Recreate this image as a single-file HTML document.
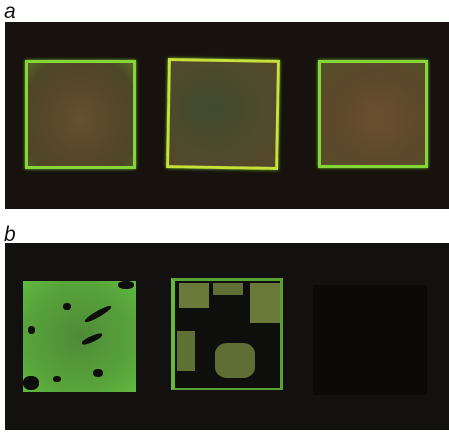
<!DOCTYPE html>
<html><head><meta charset="utf-8"><style>
body{margin:0;width:449px;height:432px;background:#fff;position:relative;overflow:hidden;font-family:"Liberation Sans",sans-serif}
.lbl{position:absolute;font-style:italic;font-size:21px;color:#111;line-height:1}
.panel{position:absolute;left:5px;width:444px}
.sq{position:absolute;box-sizing:border-box}
.a .sq{border:3px solid #86d63a;background:radial-gradient(ellipse at 50% 55%,#66502e 0%,#574729 45%,#4d4727 80%,#5a6428 100%);box-shadow:0 0 3px #6fbf30}
.hole{position:absolute;background:#0d0d0b;border-radius:45%}
</style></head><body>
<div class="lbl" style="left:4px;top:1px">a</div>
<div class="panel a" style="top:22px;height:187px;background:#17120d">
  <div class="sq" style="left:20px;top:38px;width:111px;height:109px"></div>
  <div class="sq" style="left:162px;top:37px;width:112px;height:110px;border-color:#c8e03a;transform:rotate(1deg);background:radial-gradient(ellipse at 40% 45%,#3f4a2e 0%,#4d4a2c 50%,#574729 100%)"></div>
  <div class="sq" style="left:313px;top:38px;width:110px;height:108px;background:radial-gradient(ellipse at 55% 55%,#6a4f2e 0%,#5b482a 60%,#545228 100%)"></div>
</div>
<div class="lbl" style="left:4px;top:224px">b</div>
<div class="panel b" style="top:243px;height:187px;background:#121110">
  <div class="sq" style="left:18px;top:38px;width:113px;height:111px;background:radial-gradient(ellipse at 50% 50%,#4f8a38 0%,#58a53b 70%,#60bc40 100%)">
    <div class="hole" style="left:60px;top:30px;width:30px;height:6px;transform:rotate(-30deg)"></div>
    <div class="hole" style="left:58px;top:55px;width:22px;height:6px;transform:rotate(-25deg)"></div>
    <div class="hole" style="left:40px;top:22px;width:8px;height:7px"></div>
    <div class="hole" style="left:5px;top:45px;width:7px;height:8px"></div>
    <div class="hole" style="left:30px;top:95px;width:8px;height:6px"></div>
    <div class="hole" style="left:70px;top:88px;width:10px;height:8px"></div>
    <div class="hole" style="left:95px;top:0px;width:16px;height:8px"></div>
    <div class="hole" style="left:0px;top:95px;width:16px;height:14px"></div>
  </div>
  <div class="sq" style="left:166px;top:35px;width:112px;height:112px;background:#0e0e0c;border-left:4px solid #6ab83a;border-top:3px solid #5aa036;border-right:3px solid #5aa036;border-bottom:2px solid #5aa036">
    <div style="position:absolute;left:4px;top:2px;width:30px;height:25px;background:#6a7a3a"></div>
    <div style="position:absolute;left:75px;top:2px;width:30px;height:40px;background:#6a7a3a"></div>
    <div style="position:absolute;left:2px;top:50px;width:18px;height:40px;background:#5e7034"></div>
    <div style="position:absolute;left:40px;top:62px;width:40px;height:35px;background:#5e6e34;border-radius:30%"></div>
    <div style="position:absolute;left:38px;top:2px;width:30px;height:12px;background:#5e6e34"></div>
  </div>
  <div class="sq" style="left:308px;top:42px;width:114px;height:110px;background:#0b0a09"></div>
</div>
</body></html>
